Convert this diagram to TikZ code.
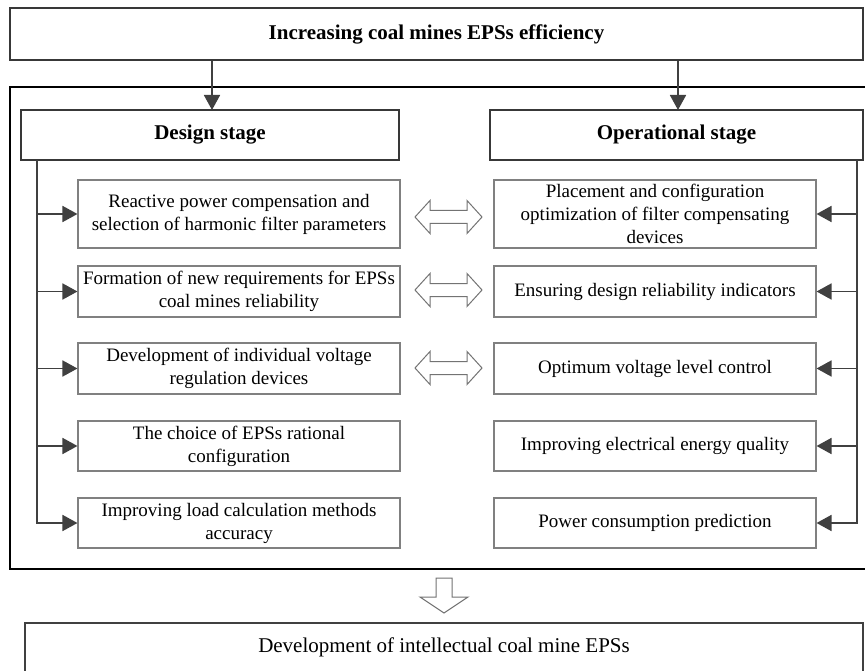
\documentclass[tikz,border=0pt]{standalone}
\usepackage{fontspec}
\setmainfont{Liberation Serif}
\usetikzlibrary{arrows.meta}
\begin{document}
\begin{tikzpicture}[x=1pt,y=1pt,
  inbox/.style={draw=black!50, line width=1.1pt, minimum width=322pt, inner sep=2pt,
    align=center, font=\fontsize{19}{23}\selectfont, fill=white},
  stagebox/.style={draw=black!78, line width=2pt, minimum height=50pt, inner sep=0pt,
    font=\fontsize{21}{25}\selectfont\bfseries},
  conn/.style={draw=black!75, line width=1.8pt, -{Triangle[length=15pt,width=16pt]}},
  hollow/.style={draw=black!55, line width=1pt, fill=white, line join=miter}
]
\clip (0,0) rectangle (865,-671);
\fill[white] (0,0) rectangle (865,-671);

% top box
\node[draw=black!78, line width=2pt, minimum width=853pt, minimum height=52pt, inner sep=0pt,
  font=\fontsize{21}{25}\selectfont\bfseries] (top) at (436.5,-34) {Increasing coal mines EPSs efficiency};

% container
\draw[black, line width=2.2pt] (10,-87) rectangle (880,-569);

% stage boxes
\node[stagebox, minimum width=378pt] (ds) at (210,-135) {Design stage};
\node[stagebox, minimum width=373pt] (os) at (676.5,-135) {Operational stage};

\draw[conn] (top.south -| 212,0) -- (212,-110);
\draw[conn] (top.south -| 678,0) -- (678,-110);

% left boxes
\node[inbox, minimum height=68pt] (l1) at (239,-214) {Reactive power compensation and\\selection of harmonic filter parameters};
\node[inbox, minimum height=51pt] (l2) at (239,-291.5) {Formation of new requirements for EPSs\\coal mines reliability};
\node[inbox, minimum height=51pt] (l3) at (239,-368.5) {Development of individual voltage\\regulation devices};
\node[inbox, minimum height=50pt] (l4) at (239,-446) {The choice of EPSs rational\\configuration};
\node[inbox, minimum height=50pt] (l5) at (239,-523) {Improving load calculation methods\\accuracy};

% right boxes
\node[inbox, minimum height=68pt] (r1) at (655,-214) {Placement and configuration\\optimization of filter compensating\\devices};
\node[inbox, minimum height=51pt] (r2) at (655,-291.5) {Ensuring design reliability indicators};
\node[inbox, minimum height=51pt] (r3) at (655,-368.5) {Optimum voltage level control};
\node[inbox, minimum height=50pt] (r4) at (655,-446) {Improving electrical energy quality};
\node[inbox, minimum height=50pt] (r5) at (655,-523) {Power consumption prediction};

% side connectors
\coordinate (lt) at (37,-160);
\coordinate (rt) at (857,-160);
\foreach \n in {l1,l2,l3,l4,l5} {\draw[conn] (lt) |- (\n.west);}
\foreach \n in {r1,r2,r3,r4,r5} {\draw[conn] (rt) |- (\n.east);}

% double hollow arrows
\tikzset{dblarr/.pic={\draw[hollow] (-33.5,0) -- (-18.5,16.5) -- (-18.5,6.5) -- (18.5,6.5) -- (18.5,16.5) -- (33.5,0) -- (18.5,-16.5) -- (18.5,-6.5) -- (-18.5,-6.5) -- (-18.5,-16.5) -- cycle;}}
\pic at (448.5,-217) {dblarr};
\pic at (448.5,-290) {dblarr};
\pic at (448.5,-368) {dblarr};

% bottom box
\node[draw=black!75, line width=2pt, minimum width=838pt, minimum height=80pt, inner sep=0pt,
  anchor=north, text depth=0pt, font=\fontsize{21}{25}\selectfont] (bot) at (444,-622) {};
\node[font=\fontsize{21}{25}\selectfont, inner sep=0pt] (bottxt) at (444,-647) {Development of intellectual coal mine EPSs};

% down hollow arrow
\draw[hollow] (436,-578) -- (452,-578) -- (452,-597) -- (468,-597) -- (444,-613) -- (420,-597) -- (436,-597) -- cycle;
\end{tikzpicture}
\end{document}
